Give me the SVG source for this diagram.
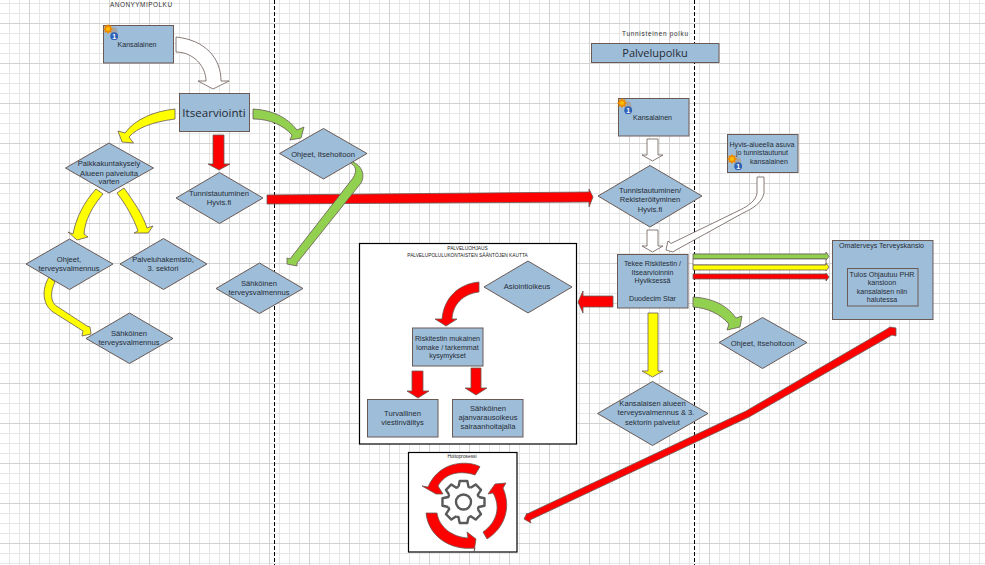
<svg xmlns="http://www.w3.org/2000/svg" xmlns:xlink="http://www.w3.org/1999/xlink" width="985" height="565" viewBox="0 0 985 565">
<style>
text{font-family:"Liberation Sans",Arial,sans-serif;font-size:7.600px;fill:#262c36;text-anchor:middle}
.s{font-size:7.100px}
.big{font-family:"Open Sans","Noto Sans",sans-serif;font-size:11.600px}
.cap{font-size:6.400px;fill:#333}
.tiny{font-size:4.800px;fill:#222}
.n{fill:#9dbdd8;stroke:#6a5a56;stroke-width:1}
.frame{fill:#fff;stroke:#000;stroke-width:1.200}
.a{stroke:#6a5a56;stroke-width:.8;stroke-linejoin:miter}
.w{fill:#fff}.y{fill:#ff0}.g{fill:#92d050}.r{fill:#f00}
.dash{stroke:#000;stroke-width:1;stroke-dasharray:4 2;fill:none}
.gear{fill:none;stroke:#595959;stroke-width:2.400;stroke-linejoin:round}
</style>
<defs>
<pattern id="grid" width="40" height="40" patternUnits="userSpaceOnUse">
<path d="M9.500 0V40M19.500 0V40M39.500 0V40M0 3.500H40M0 13.500H40M0 33.500H40" stroke="#e6e6e6" fill="none"/>
<path d="M29.500 0V40M0 23.500H40" stroke="#d2d2d2" fill="none"/>
</pattern>
<g id="icon">
<circle cx="5.500" cy="2" r="3.800" fill="#a6a6a6"/>
<path d="M0-5 1.300-3.200 3.500-3.500 3.200-1.300 5 0 3.200 1.300 3.500 3.500 1.300 3.200 0 5-1.300 3.200-3.500 3.500-3.200 1.300-5 0-3.200-1.300-3.500-3.500-1.300-3.200Z" fill="#ee8a00"/>
<circle r="2" fill="#ffc000"/>
<circle cx="6.200" cy="7.200" r="3.900" fill="#2f62b5"/>
<text x="6.200" y="9.600" style="font-size:7px;font-weight:bold;fill:#fff">1</text>
</g>
<path id="tooth" d="M-5-15.200-3.800-21H3.800L5-15.200Q6-14.800 7.200-14.300"/>
</defs>

<rect width="985" height="565" fill="#fff"/>
<rect width="985" height="565" fill="url(#grid)"/>
<path class="dash" d="M274.500 0V565M694.500 0V565"/>

<text class="cap" x="141" y="6.500" textLength="62">ANONYYMIPOLKU</text>
<text class="cap" x="655" y="36" textLength="66">Tunnisteinen polku</text>

<g id="frame-palvelu">
<rect class="frame" x="359.500" y="243.500" width="217" height="200.500"/>
<text class="tiny" x="467.500" y="250">PALVELUOHJAUS</text>
<text class="tiny" x="467.500" y="256.500">PALVELUPOLULUKONTAISTEN SÄÄNTÖJEN KAUTTA</text>
</g>
<g id="frame-hoito">
<rect class="frame" x="408.500" y="452.500" width="108.500" height="99.500"/>
<text class="tiny" x="462" y="458">Hoitoprosessi</text>
</g>

<g id="connectors">
<path class="a w" d="M176 37C205 40 221 58 221 81H229L213 89 198 81H206C206 66 193 52 176 52Z"/>
<path class="a y" d="M175 109C155 111 135 119 125 133L118 131 122 142 133.500 143 129 137C137 128 152 122 175 119Z"/>
<path class="a g" d="M253 109C272 110 287 117 297 130L304 127 301 138 290 140 292 135C283 125 270 119 253 119Z"/>
<path class="a r" d="M213 135H224V164H230L219 170 208 164H213Z"/>
<path class="a y" d="M96 189 103 194C92 207 85 220 84 234L88 237 77 240 68 232 73 234C76 218 84 202 96 189Z"/>
<path class="a y" d="M117 193 124 188C134 202 143 215 147 228L153 226 148 233H134L138 231C133 217 126 205 117 193Z"/>
<path class="a y" d="M49 277 55 282C50 292 50 303 58 307L87 326 90 327 91 334 82 336 83 331 53 312C43 305 41 290 49 277Z"/>
<path class="a r" d="M267 195 589 192V189L593 197 589 207V202L267 204Z"/>
<path class="a g" d="M350 161C361 164 366 174 361 183L297 263 297 266 287 264 287 258 290 259 353 178C358 170 355 165 350 163Z"/>
<path class="a w" d="M647 139H658V155H663L652.500 161 642 155H647Z"/>
<path class="a w" d="M647 230H658V246H663L652.500 252 642 246H647Z"/>
<path class="a w" d="M757 177H764V193C762 203 752 209 743 213L676 250 673 252 666 250 668 241 671 243.500 740 210C750 205 756 200 757 193Z"/>
<path class="a r" d="M613 296V307H583V313L578 302 583 291V296Z"/>
<path class="a g" d="M693 254H826V252L829 256.500 826 260V259H693Z"/>
<path class="a w" d="M693 259H826V265H693Z"/>
<path class="a y" d="M693 265H826V263L829 267 826 271V270H693Z"/>
<path class="a r" d="M693 274H826V273L829 277 826 281V279H693Z"/>
<path class="a g" d="M693 297C712 298 727 305 736 318L742 316 740 327 727 330 729 324C720 314 708 308 693 307Z"/>
<path class="a y" d="M648 313H658V371H663L652.500 377 642 371H648Z"/>
<path class="a r" d="M527 514 746 411 887 329 890 327 896 328 896 336 892 335 749 417 530 520 531 523 524 519 527 513Z"/>
<path class="a r" d="M479 282C458 284 444 298 442 319H435L446 326 457 319H452C453 304 463 294 479 292Z"/>
<path class="a r" d="M412 371H423V391H429L418 398 407 391H412Z"/>
<path class="a r" d="M471 368H481V388H487L476 395 465 388H471Z"/>
</g>

<g id="cycle">
<path class="a r" d="M480 466.700C470 461 440 459 428 487L422 486 436 494 443 494 438 486C445 473 460 470 475 475Z"/>
<path class="a r" d="M488 494 495 484 506 483 503 488C511 506 506 527 487 539L483 532C497 522 501 507 493 493Z"/>
<path class="a r" d="M426 513H437C439 527 452 537 468 538L467 532 476 539 474 552 475 548C449 551 428 535 426 513Z"/>
<g class="gear" transform="translate(463.500 502)">
<use xlink:href="#tooth" href="#tooth"/>
<use xlink:href="#tooth" href="#tooth" transform="rotate(45)"/>
<use xlink:href="#tooth" href="#tooth" transform="rotate(90)"/>
<use xlink:href="#tooth" href="#tooth" transform="rotate(135)"/>
<use xlink:href="#tooth" href="#tooth" transform="rotate(180)"/>
<use xlink:href="#tooth" href="#tooth" transform="rotate(225)"/>
<use xlink:href="#tooth" href="#tooth" transform="rotate(270)"/>
<use xlink:href="#tooth" href="#tooth" transform="rotate(315)"/>
<circle r="7.500"/>
</g>
</g>

<g id="kansalainen-a">
<rect class="n" x="103.500" y="25.500" width="70" height="37.500"/>
<use href="#icon" x="108" y="29"/>
<text class="s" x="137" y="46.500">Kansalainen</text>
</g>
<g id="itsearviointi">
<rect class="n" x="179.500" y="93.500" width="70" height="38"/>
<text class="big" x="214" y="117">Itsearviointi</text>
</g>
<g id="paikkakunta">
<path class="n" d="M65.500 168 109 143 153.500 168 109 193Z"/>
<text x="109" y="166">Paikkakuntakysely</text>
<text x="109" y="175.500">Alueen palveluita</text>
<text x="109" y="184">varten</text>
</g>
<g id="ohjeet-a">
<path class="n" d="M279.500 153.500 323.500 128.500 367 153.500 323.500 179Z"/>
<text x="323" y="156.500">Ohjeet, Itsehoitoon</text>
</g>
<g id="tunnistautuminen-a">
<path class="n" d="M176 198 219.500 172.500 263 198 219.500 223.500Z"/>
<text x="219" y="196">Tunnistautuminen</text>
<text x="219" y="205">Hyvis.fi</text>
</g>
<g id="ohjeet-terveys">
<path class="n" d="M26 264 69.500 239 113 264 69.500 289.500Z"/>
<text x="69" y="261.500">Ohjeet,</text>
<text x="69" y="270.500">terveysvalmennus</text>
</g>
<g id="palveluhakemisto">
<path class="n" d="M120 264 163.500 238.500 207 264 163.500 289.500Z"/>
<text x="163" y="261.500">Palveluhakemisto,</text>
<text x="163" y="270.500">3. sektori</text>
</g>
<g id="sahkoinen-a">
<path class="n" d="M86 338.500 129.500 313 173 338.500 129.500 363.500Z"/>
<text x="129" y="335.500">Sähköinen</text>
<text x="129" y="345">terveysvalmennus</text>
</g>
<g id="sahkoinen-b">
<path class="n" d="M216 288.500 259.500 263 303 288.500 259.500 313.500Z"/>
<text x="259" y="285.500">Sähköinen</text>
<text x="259" y="295">terveysvalmennus</text>
</g>
<g id="asiointioikeus">
<path class="n" d="M484 287 528 261 572 287 528 313Z"/>
<text x="527" y="289">Asiointioikeus</text>
</g>
<g id="riskitesti">
<rect class="n" x="412.500" y="328" width="70.500" height="38"/>
<text class="s" x="447.500" y="340.500">Riskitestin mukainen</text>
<text class="s" x="447.500" y="349.500">lomake / tarkemmat</text>
<text class="s" x="447.500" y="358">kysymykset</text>
</g>
<g id="turvallinen">
<rect class="n" x="367.500" y="399.500" width="70.500" height="37.500"/>
<text x="402.500" y="415.500">Turvallinen</text>
<text x="402.500" y="424.500">viestinvälitys</text>
</g>
<g id="ajanvaraus">
<rect class="n" x="452.500" y="399.500" width="70.500" height="37.500"/>
<text x="488" y="411">Sähköinen</text>
<text x="488" y="420">ajanvarausoikeus</text>
<text x="488" y="428.500">sairaanhoitajalla</text>
</g>
<g id="palvelupolku">
<rect class="n" x="591.500" y="43.500" width="127.500" height="19"/>
<text class="big" x="655" y="57" style="font-size:11px">Palvelupolku</text>
</g>
<g id="kansalainen-b">
<rect class="n" x="618.500" y="98.500" width="70.500" height="37.500"/>
<use href="#icon" x="622" y="103"/>
<text class="s" x="652.500" y="119.500">Kansalainen</text>
</g>
<g id="hyvis-asuva">
<rect class="n" x="727.500" y="134.500" width="70.500" height="38"/>
<text class="s" x="762" y="146.500">Hyvis-alueella asuva</text>
<text class="s" x="762" y="155">jo tunnistautunut</text>
<text class="s" x="769" y="164">kansalainen</text>
<use href="#icon" x="732" y="159"/>
</g>
<g id="tunnistautuminen-b">
<path class="n" d="M598 196 650 165.500 702 196 650 227Z"/>
<text x="650" y="193">Tunnistautuminen/</text>
<text x="650" y="202">Rekisteröityminen</text>
<text x="650" y="211.500">Hyvis.fi</text>
</g>
<g id="riskitesti-hyvis">
<rect class="n" x="617.500" y="254.500" width="70.500" height="53.500"/>
<text class="s" x="652.500" y="266">Tekee Riskitestin /</text>
<text class="s" x="652.500" y="275">Itsearvioinnin</text>
<text class="s" x="652.500" y="283">Hyviksessä</text>
<text class="s" x="652.500" y="300.500">Duodecim Star</text>
</g>
<g id="ohjeet-b">
<path class="n" d="M719 342.500 762.500 317.500 807 342.500 762.500 368.500Z"/>
<text x="762.500" y="345.500">Ohjeet, Itsehoitoon</text>
</g>
<g id="kansalaisen-alueen">
<path class="n" d="M597.500 413.500 652.500 381.500 708 413.500 652.500 445.500Z"/>
<text x="652.500" y="405.500">Kansalaisen alueen</text>
<text x="656" y="415">terveysvalmennus &amp; 3.</text>
<text x="652.500" y="425">sektorin palvelut</text>
</g>
<g id="omaterveys">
<rect class="n" x="832.500" y="240.500" width="100.500" height="79"/>
<text class="s" x="881.500" y="247.500">Omaterveys Terveyskansio</text>
<rect class="n" x="847.500" y="268.500" width="70.500" height="37.500"/>
<text class="s" x="882" y="276.500">Tulos Ohjautuu PHR</text>
<text class="s" x="882" y="285">kansioon</text>
<text class="s" x="882" y="293.500">kansalaisen niin</text>
<text class="s" x="882" y="302">halutessa</text>
</g>
</svg>
